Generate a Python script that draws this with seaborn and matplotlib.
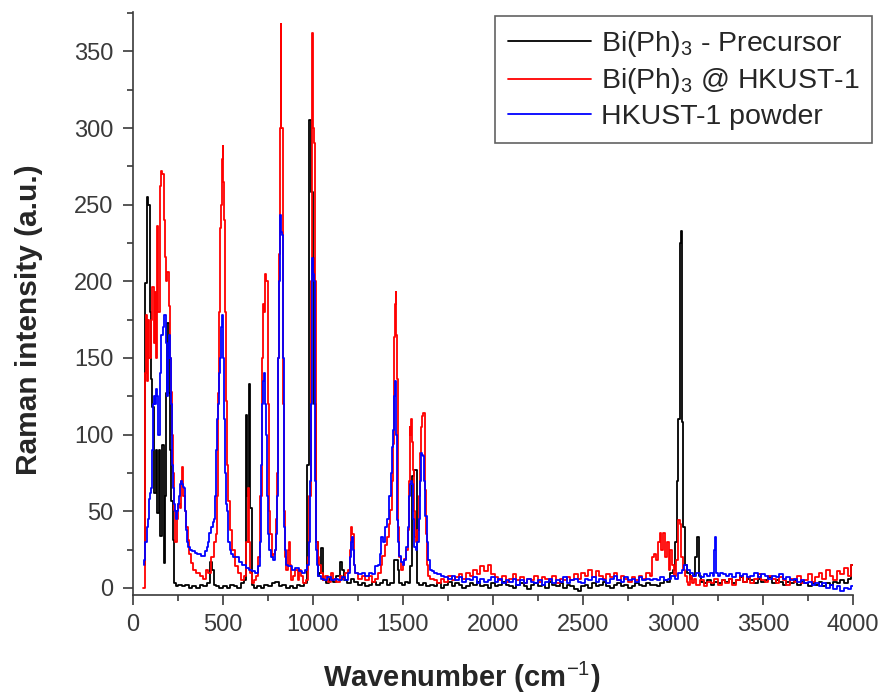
import numpy as np
import pandas as pd
import matplotlib
matplotlib.use("Agg")
import matplotlib.pyplot as plt
from matplotlib.ticker import MultipleLocator
import seaborn as sns

# ---------------- data ----------------
labels = ["Bi(Ph)$_3$ - Precursor", "Bi(Ph)$_3$ @ HKUST-1", "HKUST-1 powder"]
colors = ["#000000", "#ff0000", "#0000ff"]

# Precursor (black)
black_peaks_x = [65, 70, 80, 91, 98, 104, 111, 120, 130, 139, 148, 157, 167, 172, 178, 185, 194, 204, 209,
                 218, 226, 231, 245, 260, 280, 300, 320, 340, 360, 380, 400, 420, 435, 444, 454, 470, 490,
                 510, 530, 550, 570, 590, 610, 622, 630, 640, 648, 657, 665, 680, 700, 720, 740, 760, 780,
                 800, 820, 840, 860, 880, 900, 920, 940, 960, 974, 987, 996, 1002, 1010, 1020, 1030, 1040,
                 1053, 1060, 1080, 1100, 1120, 1140, 1155, 1165, 1180, 1200, 1220, 1240, 1260, 1280, 1300,
                 1320, 1340, 1360, 1380, 1400, 1420, 1440, 1465, 1475, 1484, 1500, 1520, 1535, 1548, 1557,
                 1570, 1580, 1600, 1620, 1640]
black_peaks_y = [15, 199, 255, 250, 180, 136, 118, 62, 90, 49, 90, 34, 93, 16, 60, 127, 173, 127, 90,
                 57, 31, 3, 1, 2, 1, 2, 0, 1, 0, 2, 1, 3, 17, 12, 2, 1, 0,
                 1, 0, 2, 1, 0, 3, 5, 113, 60, 133, 52, 2, 0, 1, 0, 2, 1, 3,
                 4, 1, 2, 0, 1, 0, 2, 1, 3, 80, 305, 258, 215, 120, 30, 8, 10,
                 26, 5, 3, 6, 4, 8, 17, 12, 5, 3, 6, 4, 2, 3, 1,
                 2, 4, 2, 3, 5, 2, 3, 18, 12, 3, 2, 4, 3, 14, 73,
                 77, 3, 2, 3, 1]
black_mid_y = [2, 1, 3, 0, 2, 4, 1, 3, 2, 0, 1, 3, 2, 4, 1, 2, 0, 3, 1, 2, 4, 2, 1, 0, 2, 3, 1, -1, 2, 3,
               1, 2, 0, 4, 2, 1, 3, 0, 2, 1, -1, -2, 1, 2, 0, 3, 1, 2, 4, 1, 0, 2, 3, 1, 2, 0, 1, 3, 2, 1,
               3, 2]
black_ch_x = [2900, 2920, 2940, 2960, 2975, 2990, 3005, 3015, 3026, 3035, 3040, 3048, 3054, 3062, 3072,
              3085, 3100, 3115, 3128, 3138, 3146, 3160, 3180, 3200, 3220, 3240, 3260, 3280]
black_ch_y = [2, 1, 3, 5, 4, 10, 12, 30, 70, 110, 225, 233, 108, 40, 15,
              10, 6, 8, 20, 33, 8, 4, 3, 5, 2, 4, 3, 5]
black_end_y = [4, 6, 3, 5, 7, 4, 6, 5, 3, 6, 4, 5, 7, 3, 5, 4, 2, 4, 3, 5, 2, 4, 3, 1, 3, 2, 4, 1, 3, 2,
               4, 3, 5, 3, 6, 15]

# Bi(Ph)3 @ HKUST-1 (red)
red_peaks_x = [57, 62, 70, 75, 82, 88, 95, 102, 111, 118, 126, 132, 137, 145, 152, 159, 168, 175, 182, 188,
               194, 204, 209, 213, 218, 222, 231, 240, 248, 255, 265, 270, 276, 283, 292, 300, 306, 315,
               324, 340, 361, 380, 398, 412, 426, 444, 455, 463, 470, 476, 482, 487, 491, 496, 500, 505,
               509, 513, 518, 524, 531, 542, 555, 574, 592, 611, 625, 635, 643, 649, 655, 665, 680, 689,
               700, 710, 718, 724, 730, 737, 745, 750, 756, 765, 775, 785, 794, 800, 803, 808, 812, 817,
               822, 827, 833, 837, 840, 848, 855, 862, 868, 875, 885, 895, 910, 920, 928, 940, 952, 965,
               974, 983, 990, 995, 998, 1003, 1008, 1013, 1017, 1020, 1030, 1039, 1050, 1060, 1075, 1090,
               1105, 1120, 1140, 1155, 1170, 1185, 1200, 1208, 1213, 1222, 1230, 1241, 1260, 1280, 1300,
               1317, 1335, 1354, 1370, 1380, 1391, 1405, 1419, 1427, 1433, 1440, 1446, 1452, 1458, 1461,
               1466, 1469, 1473, 1476, 1484, 1493, 1502, 1511, 1520, 1530, 1535, 1539, 1544, 1548, 1552,
               1557, 1562, 1567, 1576, 1585, 1592, 1598, 1604, 1609, 1617, 1622, 1626, 1631, 1635, 1645,
               1659]
red_peaks_y = [0, 0, 140, 178, 135, 175, 150, 175, 196, 160, 193, 150, 236, 180, 262, 272, 270, 240, 216, 200,
               206, 184, 150, 128, 100, 75, 51, 30, 45, 55, 52, 70, 79, 60, 50, 40, 31, 22,
               16, 12, 10, 8, 6, 12, 10, 20, 30, 35, 60, 127, 180, 235, 250, 280, 288, 265,
               240, 180, 122, 80, 57, 38, 25, 14, 10, 5, 8, 30, 65, 30, 10, 3, 5, 8,
               20, 60, 150, 185, 180, 205, 200, 120, 50, 35, 20, 22, 25, 45, 75, 150, 218, 300,
               368, 300, 300, 120, 50, 20, 12, 25, 30, 15, 5, 8, 12, 5, 12, 8, 3, 5,
               20, 60, 200, 300, 362, 300, 290, 200, 80, 30, 20, 15, 10, 5, 8, 4,
               10, 6, 4, 8, 6, 10, 12, 25, 40, 35, 15, 10, 6, 8, 5,
               8, 4, 6, 10, 15, 21, 28, 33, 42, 51, 70, 94, 164, 185, 193,
               165, 136, 80, 40, 20, 12, 15, 19, 25, 38, 70, 105, 100, 110, 95,
               77, 50, 33, 30, 38, 60, 88, 105, 112, 114, 90, 64, 35, 15, 8,
               6]
red_mid_y = [5, 3, 6, 4, 8, 5, 7, 9, 6,
             10, 8, 12, 9, 14, 11, 15, 9,
             7, 5, 8, 4, 6, 9, 5, 7, 3, 6, 5, 8, 4, 7, 6, 5, 8, 3, 6, 5,
             7, 5, 9, 6, 10, 8, 12, 7, 11, 8, 6, 9, 7, 10, 5, 8, 6, 4, 7, 5, 8, 6, 10]
red_ch_x = [2880, 2890, 2900, 2910, 2920, 2930, 2940, 2950, 2960, 2970, 2980, 2990, 3000, 3010, 3020,
            3030, 3038, 3044, 3050, 3060, 3070, 3080, 3090, 3100, 3110, 3120, 3140, 3160, 3180, 3200,
            3220, 3240, 3260, 3280]
red_ch_y = [8, 20, 22, 18, 30, 36, 25, 36, 20, 30, 12, 25, 15, 8, 18,
            44, 44, 42, 20, 12, 8, 4, 2, 8, 3, 6, 2, 5, 1, 4,
            3, 6, 2, 5]
red_end_y = [3, 6, 2, 5, 8, 4, 7, 3, 6, 9, 5, 4, 8, 6, 3, 7, 5, 2, 6, 4, 8, 3, 5, 9, 4, 7, 10, 6, 12, 8,
             5, 11, 9, 13, 8, 15]

# HKUST-1 powder (blue)
blue_peaks_x = [61, 66, 72, 79, 86, 92, 97, 103, 108, 114, 119, 126, 132, 138, 145, 150, 156, 163, 170, 176,
                180, 186, 193, 198, 202, 207, 213, 217, 221, 226, 230, 235, 239, 245, 252, 258, 263, 267,
                273, 280, 285, 290, 295, 300, 310, 322, 335, 350, 358, 375, 385, 395, 405, 412, 419, 430,
                441, 448, 454, 460, 466, 471, 476, 482, 487, 491, 496, 500, 505, 510, 515, 520, 524, 533,
                542, 551, 565, 579, 595, 616, 635, 653, 670, 689, 700, 708, 715, 718, 722, 726, 730, 735,
                739, 745, 750, 754, 762, 772, 782, 791, 798, 803, 806, 809, 814, 818, 822, 827, 831, 835,
                840, 846, 855, 870, 892, 910, 930, 947, 960, 974, 982, 988, 993, 998, 1003, 1007, 1011,
                1015, 1020, 1026, 1035, 1050, 1070, 1090, 1112, 1130, 1150, 1170, 1186, 1200, 1208, 1213,
                1217, 1222, 1228, 1240, 1260, 1280, 1300, 1317, 1335, 1354, 1365, 1375, 1381, 1395, 1409,
                1418, 1428, 1436, 1443, 1450, 1455, 1458, 1462, 1466, 1469, 1476, 1484, 1493, 1502, 1511,
                1521, 1530, 1535, 1539, 1548, 1554, 1560, 1567, 1576, 1585, 1592, 1598, 1604, 1610, 1613,
                1620, 1628, 1635, 1641, 1655, 1669]
blue_peaks_y = [15, 18, 30, 40, 45, 58, 62, 65, 90, 120, 125, 120, 130, 125, 100, 140, 165, 165, 170, 178,
                178, 160, 125, 150, 165, 150, 120, 100, 80, 65, 55, 50, 45, 50, 55, 60, 68, 70,
                68, 66, 65, 50, 38, 30, 27, 25, 24, 23, 22, 22, 21, 21, 24, 27, 30, 36,
                40, 43, 45, 60, 90, 110, 120, 140, 150, 170, 178, 172, 150, 110, 75, 55, 50, 30,
                25, 22, 20, 20, 17, 15, 13, 12, 11, 10, 14, 30, 80, 120, 120, 135, 140, 120,
                100, 60, 35, 35, 25, 20, 18, 25, 35, 60, 100, 150, 200, 243, 243, 232, 230, 150,
                40, 25, 15, 14, 12, 13, 11, 10, 12, 15, 30, 70, 120, 215, 205, 200, 120,
                70, 25, 15, 8, 6, 5, 7, 5, 6, 5, 7, 5, 10, 20, 30,
                33, 25, 15, 10, 9, 10, 8, 10, 9, 14, 15, 22, 33, 30, 40,
                45, 60, 75, 92, 103, 125, 135, 100, 70, 44, 30, 21, 17, 15, 18,
                27, 40, 60, 68, 70, 68, 45, 27, 25, 30, 45, 70, 88, 87, 86,
                70, 47, 30, 18, 12, 11]
blue_mid_y = [10, 9, 8, 7, 6, 8, 5, 7, 4, 6, 5, 7, 3, 6, 4, 5, 7, 4, 6, 3, 5, 4, 6, 2, 5, 3, 6, 4, 3, 5,
              2, 4, 6, 3, 5, 4, 7, 3, 5, 6, 4, 3, 6, 5, 7, 4, 6, 5, 3, 6, 8, 5, 4, 7, 5, 6, 4, 7, 5, 6]
blue_ch_x = [2880, 2900, 2920, 2940, 2960, 2980, 3000, 3020, 3040, 3055, 3070, 3085, 3100, 3120, 3140,
             3160, 3180, 3200, 3215, 3225, 3232, 3239, 3244, 3255, 3270, 3285]
blue_ch_y = [5, 6, 5, 7, 5, 6, 8, 6, 10, 12, 15, 12, 10, 8, 10,
             7, 9, 8, 10, 8, 25, 33, 10, 8, 10, 9]
blue_end_y = [8, 9, 7, 10, 8, 9, 7, 8, 10, 7, 9, 8, 6, 8, 7, 9, 6, 7, 5, 6, 4, 5, 3, 4, 2, 3, 1, 3, 0, 2,
              -1, 1, -2, 0, -1, 1]


def assemble(px, py, mid_start, mid_y, cx, cy, end_y):
    xs = list(px) + [mid_start + 20 * i for i in range(len(mid_y))] + list(cx) + \
         [3300 + 20 * i for i in range(len(end_y))]
    ys = list(py) + list(mid_y) + list(cy) + list(end_y)
    return xs, ys


series = [
    assemble(black_peaks_x, black_peaks_y, 1660, black_mid_y, black_ch_x, black_ch_y, black_end_y),
    assemble(red_peaks_x, red_peaks_y, 1680, red_mid_y, red_ch_x, red_ch_y, red_end_y),
    assemble(blue_peaks_x, blue_peaks_y, 1680, blue_mid_y, blue_ch_x, blue_ch_y, blue_end_y),
]

frames = []
for lab, (xs, ys) in zip(labels, series):
    frames.append(pd.DataFrame({"Wavenumber": xs, "Intensity": ys, "Sample": lab}))
df = pd.concat(frames, ignore_index=True)

# ---------------- plotting ----------------
sns.set_theme(style="ticks")
plt.rcParams["font.family"] = ["Liberation Sans", "DejaVu Sans"]
plt.rcParams["mathtext.fontset"] = "custom"
plt.rcParams["mathtext.rm"] = "Liberation Sans"
plt.rcParams["mathtext.it"] = "Liberation Sans:italic"
plt.rcParams["mathtext.bf"] = "Liberation Sans:bold"

W, H = 886, 696
ax_l, ax_r, ax_t, ax_b = 133, 853, 12, 595
fig = plt.figure(figsize=(W / 100, H / 100), dpi=100)
ax = fig.add_axes([ax_l / W, 1 - ax_b / H, (ax_r - ax_l) / W, (ax_b - ax_t) / H])

sns.lineplot(data=df, x="Wavenumber", y="Intensity", hue="Sample",
             palette=dict(zip(labels, colors)), hue_order=labels,
             estimator=None, sort=True, linewidth=1.3, drawstyle="steps-mid", ax=ax)

ax.set_xlim(0, 4000)
ax.set_ylim(-4.6, 375.7)
ax.xaxis.set_major_locator(MultipleLocator(500))
ax.xaxis.set_minor_locator(MultipleLocator(250))
ax.yaxis.set_major_locator(MultipleLocator(50))
ax.yaxis.set_minor_locator(MultipleLocator(25))
ax.tick_params(which="major", direction="out", length=7, width=1.2, labelsize=17,
               labelcolor="#3a3a3a", color="#3a3a3a", pad=7)
ax.tick_params(which="minor", direction="out", length=4.5, width=1.2, color="#3a3a3a")
for side in ["top", "right"]:
    ax.spines[side].set_visible(False)
for side in ["left", "bottom"]:
    ax.spines[side].set_linewidth(1.2)
    ax.spines[side].set_color("#3a3a3a")

ax_h = ax_b - ax_t
ax_w = ax_r - ax_l
ax.set_xlabel("Wavenumber (cm$^{-1}$)", fontsize=21, fontweight="bold")
ax.xaxis.set_label_coords((462 - ax_l) / ax_w, (ax_b - 660) / ax_h)
ax.set_ylabel("Raman intensity (a.u.)", fontsize=21.5, fontweight="bold")
ax.yaxis.set_label_coords((43 - ax_l) / ax_w, (ax_b - 320) / ax_h)

handles, labs = ax.get_legend_handles_labels()
leg = ax.legend(handles, labs, loc="upper right", bbox_to_anchor=(872 / W, 1 - 16 / H),
                bbox_transform=fig.transFigure, borderaxespad=0, fontsize=20.5, frameon=True,
                fancybox=False, edgecolor="#3a3a3a", handlelength=2.9, labelspacing=0.27,
                borderpad=0.45, handletextpad=0.35, title=None)
leg.get_frame().set_linewidth(1.2)
for line in leg.get_lines():
    line.set_linewidth(1.3)
    line.set_drawstyle("default")

fig.savefig("out.png", dpi=100)
